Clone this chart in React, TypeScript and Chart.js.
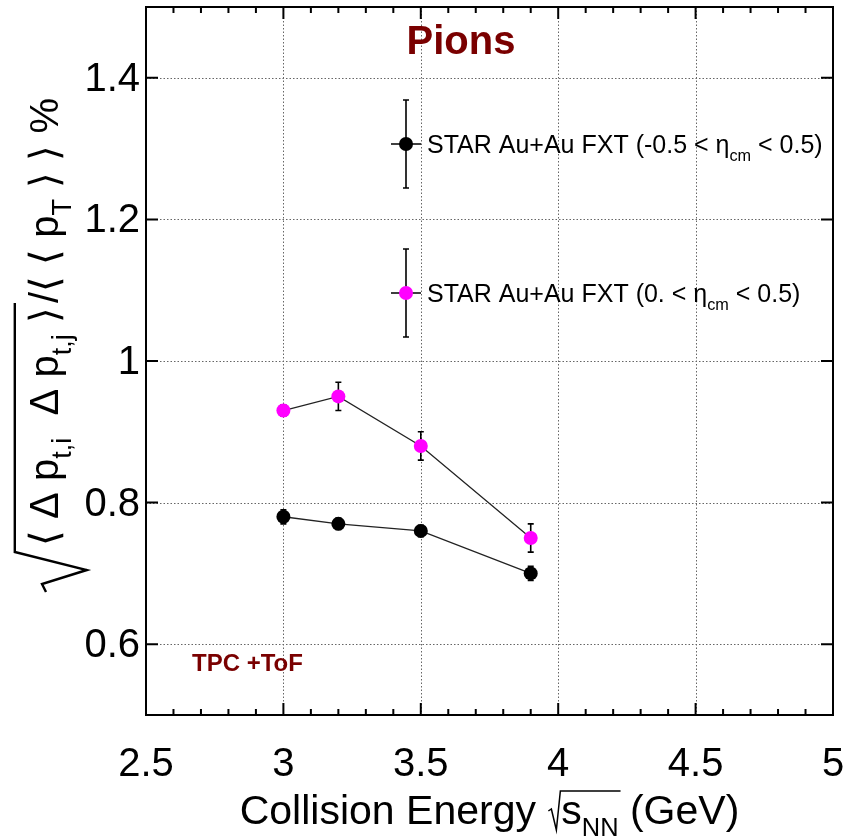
import React, { useEffect, useRef } from 'react';
import { Chart, registerables } from 'chart.js';

Chart.register(...registerables);

// ---------- data ----------
const energies = [3.0, 3.2, 3.5, 3.9];
const fullEtaValues = [0.78, 0.77, 0.76, 0.70];
const fullEtaErrors = [0.01, 0.008, 0.008, 0.01];
const halfEtaValues = [0.93, 0.95, 0.88, 0.75];
const halfEtaErrors = [0.008, 0.02, 0.02, 0.02];

const xMajorTicks = [2.5, 3, 3.5, 4, 4.5, 5];
const xTickLabels = ['2.5', '3', '3.5', '4', '4.5', '5'];
const xMinorStep = 0.1;
const yMajorTicks = [0.6, 0.8, 1.0, 1.2, 1.4];
const yTickLabels = ['0.6', '0.8', '1', '1.2', '1.4'];

const legendMain = ['STAR Au+Au FXT (-0.5 < \u03b7', 'STAR Au+Au FXT (0. < \u03b7'];
const legendSub = ['cm', 'cm'];
const legendTail = [' < 0.5)', ' < 0.5)'];
const legendColors = ['#000000', '#ff00ff'];

const titleText = 'Pions';
const detectorText = 'TPC +ToF';

const FONT = '"Liberation Sans", Arial, Helvetica, sans-serif';
const DARK_RED = '#7a0000';

type Run = { t: string; sub?: boolean };

function runsWidth(ctx: CanvasRenderingContext2D, runs: Run[], size: number, subScale = 0.62) {
  let w = 0;
  for (const r of runs) {
    ctx.font = `${r.sub ? size * subScale : size}px ${FONT}`;
    w += ctx.measureText(r.t).width;
  }
  return w;
}

function drawRuns(
  ctx: CanvasRenderingContext2D,
  runs: Run[],
  x: number,
  y: number,
  size: number,
  subScale = 0.62,
  subShift = 0.3
) {
  let cx = x;
  ctx.textAlign = 'left';
  ctx.textBaseline = 'alphabetic';
  for (const r of runs) {
    const s = r.sub ? size * subScale : size;
    ctx.font = `${s}px ${FONT}`;
    ctx.fillText(r.t, cx, y + (r.sub ? size * subShift : 0));
    cx += ctx.measureText(r.t).width;
  }
  return cx - x;
}

const decorPlugin = {
  id: 'decor',
  beforeDatasetsDraw(chart: any) {
    const { ctx, chartArea: a, scales } = chart;
    const xs = scales.x;
    const ys = scales.y;
    ctx.save();
    // dotted grid
    ctx.strokeStyle = '#666';
    ctx.lineWidth = 1;
    ctx.setLineDash([1.5, 2]);
    for (const v of xMajorTicks) {
      const px = Math.round(xs.getPixelForValue(v)) + 0.5;
      if (px < a.left + 3 || px > a.right - 3) continue;
      ctx.beginPath();
      ctx.moveTo(px, a.top);
      ctx.lineTo(px, a.bottom);
      ctx.stroke();
    }
    for (const v of yMajorTicks) {
      const py = Math.round(ys.getPixelForValue(v)) + 0.5;
      ctx.beginPath();
      ctx.moveTo(a.left, py);
      ctx.lineTo(a.right, py);
      ctx.stroke();
    }
    ctx.setLineDash([]);

    // error bars
    const drawErr = (xv: number[], yv: number[], ev: number[]) => {
      ctx.strokeStyle = '#000';
      ctx.lineWidth = 1.6;
      for (let i = 0; i < xv.length; i++) {
        const px = xs.getPixelForValue(xv[i]);
        const p1 = ys.getPixelForValue(yv[i] + ev[i]);
        const p2 = ys.getPixelForValue(yv[i] - ev[i]);
        ctx.beginPath();
        ctx.moveTo(px, p1);
        ctx.lineTo(px, p2);
        ctx.moveTo(px - 3, p1);
        ctx.lineTo(px + 3, p1);
        ctx.moveTo(px - 3, p2);
        ctx.lineTo(px + 3, p2);
        ctx.stroke();
      }
    };
    drawErr(energies, fullEtaValues, fullEtaErrors);
    drawErr(energies, halfEtaValues, halfEtaErrors);
    ctx.restore();
  },
  afterDatasetsDraw(chart: any) {
    const { ctx, chartArea: a, scales } = chart;
    const xs = scales.x;
    const ys = scales.y;
    ctx.save();

    // frame
    ctx.strokeStyle = '#000';
    ctx.lineWidth = 2;
    ctx.strokeRect(a.left, a.top, a.right - a.left, a.bottom - a.top);

    // ticks
    ctx.lineWidth = 2;
    ctx.beginPath();
    for (let v = xMajorTicks[0]; v <= xMajorTicks[xMajorTicks.length - 1] + 1e-9; v += xMinorStep) {
      const isMajor = xMajorTicks.some((m) => Math.abs(m - v) < 1e-6);
      const len = isMajor ? 12 : 6;
      const px = xs.getPixelForValue(v);
      ctx.moveTo(px, a.bottom);
      ctx.lineTo(px, a.bottom - len);
      ctx.moveTo(px, a.top);
      ctx.lineTo(px, a.top + len);
    }
    for (const v of yMajorTicks) {
      const py = ys.getPixelForValue(v);
      ctx.moveTo(a.left, py);
      ctx.lineTo(a.left + 12, py);
      ctx.moveTo(a.right, py);
      ctx.lineTo(a.right - 12, py);
    }
    ctx.stroke();

    // tick labels
    ctx.fillStyle = '#000';
    ctx.font = `40px ${FONT}`;
    ctx.textAlign = 'center';
    ctx.textBaseline = 'middle';
    xMajorTicks.forEach((v, i) => {
      ctx.fillText(xTickLabels[i], xs.getPixelForValue(v), a.bottom + 50);
    });
    ctx.textAlign = 'right';
    yMajorTicks.forEach((v, i) => {
      ctx.fillText(yTickLabels[i], a.left - 6, ys.getPixelForValue(v) + 2);
    });

    // x title with radical
    {
      const size = 41;
      const pre: Run[] = [{ t: 'Collision Energy ' }];
      const rad: Run[] = [{ t: 's' }, { t: 'NN', sub: true }];
      const post: Run[] = [{ t: ' (GeV)' }];
      const radW = 14;
      const total = runsWidth(ctx, pre, size) + radW + runsWidth(ctx, rad, size) + runsWidth(ctx, post, size);
      const cxm = (a.left + a.right) / 2;
      let x = cxm - total / 2;
      const base = 824;
      x += drawRuns(ctx, pre, x, base, size);
      // radical
      const rw = runsWidth(ctx, rad, size);
      ctx.lineWidth = 1.5;
      ctx.beginPath();
      ctx.moveTo(x + 1, base - 13);
      ctx.lineTo(x + 4, base - 15);
      ctx.lineTo(x + 9, base + 6);
      ctx.lineTo(x + radW - 1, base - 33);
      ctx.lineTo(x + radW + rw + 2, base - 33);
      ctx.stroke();
      x += radW;
      x += drawRuns(ctx, rad, x, base, size);
      drawRuns(ctx, post, x, base, size);
    }

    // y title rotated with radical
    {
      const size = 40;
      const subScale = 0.68;
      const radicand: Run[] = [
        { t: '\u27e8 \u0394 p' },
        { t: 't,i', sub: true },
        { t: '  \u0394 p' },
        { t: 't,j', sub: true },
        { t: ' \u27e9' },
      ];
      const rest: Run[] = [{ t: '/\u27e8 \u27e8 p' }, { t: 'T', sub: true }, { t: ' \u27e9 \u27e9 %' }];
      const radW = 48;
      const wA = runsWidth(ctx, radicand, size, subScale);
      const wB = runsWidth(ctx, rest, size, subScale);
      const total = radW + wA + 4 + wB;
      const endY = 98;
      const baseX = 58;
      ctx.translate(baseX, endY + total);
      ctx.rotate(-Math.PI / 2);
      ctx.lineWidth = 2.4;
      ctx.beginPath();
      ctx.moveTo(2, -0.3 * size);
      ctx.lineTo(10, -0.4 * size);
      ctx.lineTo(24, 0.72 * size);
      ctx.lineTo(radW - 6, -1.08 * size);
      ctx.lineTo(radW + wA + 4, -1.08 * size);
      ctx.stroke();
      drawRuns(ctx, radicand, radW, 0, size, subScale, 0.32);
      drawRuns(ctx, rest, radW + wA + 4, 0, size, subScale, 0.32);
      ctx.setTransform(1, 0, 0, 1, 0, 0);
    }

    // title texts
    ctx.fillStyle = DARK_RED;
    ctx.font = `bold 40px ${FONT}`;
    ctx.textAlign = 'center';
    ctx.textBaseline = 'middle';
    ctx.fillText(titleText, a.left + 315, a.top + 36);
    ctx.font = `bold 24px ${FONT}`;
    ctx.textAlign = 'left';
    ctx.fillText(detectorText, a.left + 46, a.top + 657);

    // legend
    const lx = a.left + 260;
    const ly = [a.top + 137, a.top + 286];
    for (let i = 0; i < 2; i++) {
      const y = ly[i];
      ctx.strokeStyle = '#000';
      ctx.lineWidth = 1.6;
      ctx.beginPath();
      ctx.moveTo(lx, y - 44);
      ctx.lineTo(lx, y + 44);
      ctx.moveTo(lx - 3, y - 44);
      ctx.lineTo(lx + 3, y - 44);
      ctx.moveTo(lx - 3, y + 44);
      ctx.lineTo(lx + 3, y + 44);
      ctx.moveTo(lx - 15, y);
      ctx.lineTo(lx + 15, y);
      ctx.stroke();
      ctx.fillStyle = legendColors[i];
      ctx.beginPath();
      ctx.arc(lx, y, 7, 0, Math.PI * 2);
      ctx.fill();
      ctx.fillStyle = '#000';
      drawRuns(
        ctx,
        [{ t: legendMain[i] }, { t: legendSub[i], sub: true }, { t: legendTail[i] }],
        lx + 21,
        y + 9,
        25,
        0.65,
        0.3
      );
    }
    ctx.restore();
  },
};

export default function App() {
  const ref = useRef<HTMLCanvasElement | null>(null);
  useEffect(() => {
    if (!ref.current) return;
    const chart = new Chart(ref.current, {
      type: 'scatter',
      data: {
        datasets: [
          {
            label: 'STAR Au+Au FXT (-0.5 < eta_cm < 0.5)',
            data: energies.map((x, i) => ({ x, y: fullEtaValues[i] })),
            showLine: true,
            borderColor: '#222',
            borderWidth: 1.3,
            pointRadius: 7,
            pointBackgroundColor: '#000',
            pointBorderWidth: 0,
          },
          {
            label: 'STAR Au+Au FXT (0. < eta_cm < 0.5)',
            data: energies.map((x, i) => ({ x, y: halfEtaValues[i] })),
            showLine: true,
            borderColor: '#222',
            borderWidth: 1.3,
            pointRadius: 7,
            pointBackgroundColor: '#ff00ff',
            pointBorderWidth: 0,
          },
        ],
      },
      options: {
        responsive: false,
        animation: false,
        layout: { padding: { left: 146, right: 13, top: 6, bottom: 122 } },
        plugins: { legend: { display: false }, tooltip: { enabled: false } },
        scales: {
          x: { type: 'linear', min: 2.5, max: 5, display: false },
          y: { type: 'linear', min: 0.5, max: 1.5, display: false },
        },
      },
      plugins: [decorPlugin],
    });
    return () => chart.destroy();
  }, []);
  return (
    <div style={{ position: 'fixed', left: 0, top: 0, width: 846, height: 837, background: '#fff' }}>
      <canvas ref={ref} width={846} height={837} style={{ display: 'block' }} />
    </div>
  );
}
